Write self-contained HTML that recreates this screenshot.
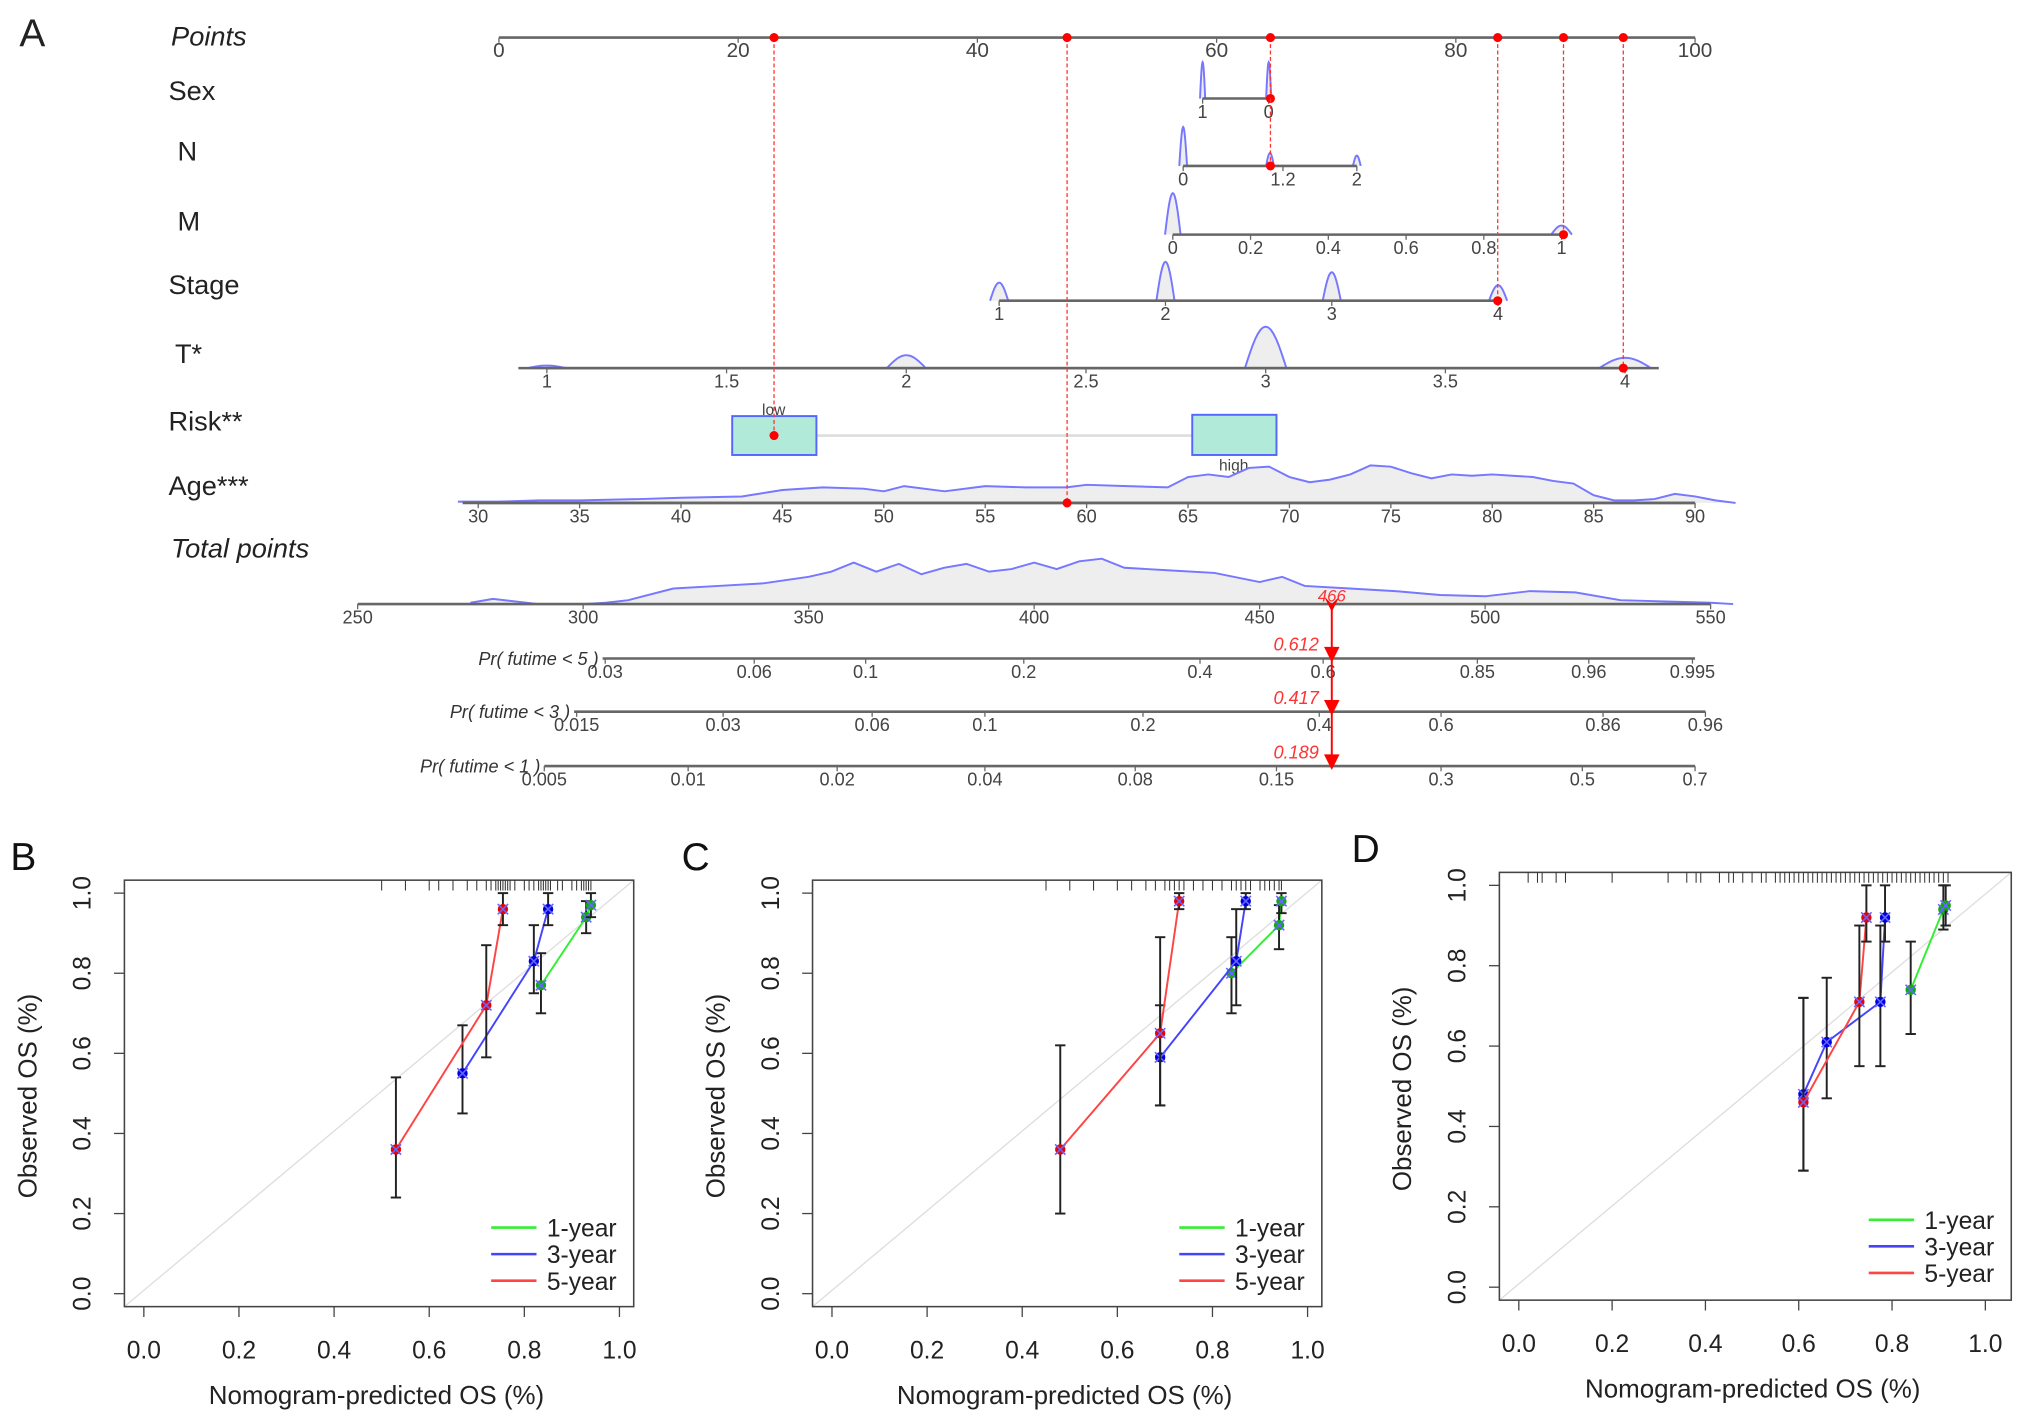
<!DOCTYPE html>
<html><head><meta charset="utf-8">
<style>
html,body{margin:0;padding:0;background:#fff;}
svg{display:block;}
text{font-family:"Liberation Sans",Arial,sans-serif;}
</style></head>
<body>
<svg id="fig" xmlns="http://www.w3.org/2000/svg" width="2032" height="1422" viewBox="0 0 1568 1097" preserveAspectRatio="none">
<rect x="0" y="0" width="1568" height="1097" fill="#fff"/>
<g id="nomo"></g>
<g id="cal"></g>
</svg>
<script>
// ---------- Nomogram data ----------
const rowLabels = ["Points","Sex","N","M","Stage","T*","Risk**","Age***","Total points"];
const pointsTicks = [0,20,40,60,80,100];
const sexTicks = ["1","0"];
const nTicks = ["0","1.2","2"];
const mTicks = [0,0.2,0.4,0.6,0.8,1];
const stageTicks = [1,2,3,4];
const tTicks = [1,1.5,2,2.5,3,3.5,4];
const ageTicks = [30,35,40,45,50,55,60,65,70,75,80,85,90];
const totalTicks = [250,300,350,400,450,500,550];
const pr5Ticks = ["0.03","0.06","0.1","0.2","0.4","0.6","0.85","0.96","0.995"];
const pr3Ticks = ["0.015","0.03","0.06","0.1","0.2","0.4","0.6","0.86","0.96"];
const pr1Ticks = ["0.005","0.01","0.02","0.04","0.08","0.15","0.3","0.5","0.7"];
const selectedPoints = [23, 47.5, 64.5, 83.5, 89, 94];
const selectedTotal = 466;
const prValues = ["0.612","0.417","0.189"];
// density heights
const ageDensX = [29,31,33,35,38,40,43,45,47,49,50,51,53,55,57,59,60,62,64,65,66,67,68,69,70,71,72,73,74,75,76,77,78,79,80,81,82,83,84,85,86,87,88,89,90,91,92];
const ageDensY = [1,1,2,2,3,4,5,10,12,11,9,13,9,13,12,12,14,13,12,20,22,20,27,28,20,16,18,22,29,28,23,19,22,21,22,21,20,17,15,6,2,2,3,7,5,2,0];
const totDensX = [275,280,285,290,300,305,310,320,330,340,350,355,360,365,370,375,380,385,390,395,400,405,410,415,420,425,430,440,450,455,460,470,480,490,500,510,520,530,540,550,555];
const totDensY = [1,4,2,0,0,1,3,12,14,16,21,25,32,25,31,23,28,31,25,27,32,27,33,35,28,27,26,24,17,21,14,12,10,7,6,10,9,3,2,1,0];

const NS="http://www.w3.org/2000/svg";
function el(parent,tag,attrs,name,inter){
  const e=document.createElementNS(NS,tag);
  for(const k in attrs)e.setAttribute(k,attrs[k]);
  
  
  parent.appendChild(e);return e;
}
function txt(parent,x,y,s,size,name,opt){
  opt=opt||{};
  const t=el(parent,'text',{x:x,y:y,'font-size':size,fill:opt.fill||'#222','text-anchor':opt.anchor||'start','font-style':opt.italic?'italic':'normal'},name,false);
  if(opt.transform)t.setAttribute('transform',opt.transform);
  t.textContent=s;return t;
}
const G=document.getElementById('nomo');
const px0=385, px1=1308;
function ptX(p){return px0+(px1-px0)*p/100;}
txt(G,15,36,"A",30,'panel-label-a');
const labelPos=[[132,35,true],[130,77,false],[137,124,false],[137,178,false],[130,227,false],[135,280,false],[130,332,false],[130,382,false],[132,430,true]];
rowLabels.forEach((l,i)=>{txt(G,labelPos[i][0],labelPos[i][1],l,21,'row-label',{italic:labelPos[i][2]});});

function axis(x0,x1,y,ticks,tx,name,fs){
  el(G,'line',{x1:x0,y1:y,x2:x1,y2:y,stroke:'#666','stroke-width':2},name+'-line',false);
  ticks.forEach((t,i)=>{
    const x=tx(t,i);
    el(G,'line',{x1:x,y1:y,x2:x,y2:y+4,stroke:'#666','stroke-width':1},name+'-tick',false);
    txt(G,x,y+15,String(t),fs||14,name+'-tick-label',{anchor:'middle',fill:'#444'});
  });
}
function bump(cx,y,w,h,name){
  if(h<=0)return;
  let d=`M${cx-w/2},${y}`;
  for(let i=0;i<=16;i++){const t=i/16;d+=` L${cx-w/2+w*t},${y-h*Math.sin(Math.PI*t)}`;}
  el(G,'path',{d:d,fill:'#eee',stroke:'#77f','stroke-width':1.5},name,false);
}
function dens(xs,ys,sx,y,name){
  let d=`M${sx(xs[0])},${y}`;
  xs.forEach((v,i)=>{d+=` L${sx(v)},${y-ys[i]}`;});
  d+=` L${sx(xs[xs.length-1])},${y} Z`;
  el(G,'path',{d:d,fill:'#eee',stroke:'none'},name+'-fill',false);
  let d2=`M${sx(xs[0])},${y-ys[0]}`;
  xs.forEach((v,i)=>{d2+=` L${sx(v)},${y-ys[i]}`;});
  el(G,'path',{d:d2,fill:'none',stroke:'#77f','stroke-width':1.5},name+'-line',false);
}
axis(px0,px1,29,pointsTicks,t=>ptX(t),'points-axis',16);
bump(928,76,4,28,'sex-density-1');bump(979,76,4,28,'sex-density-0');
axis(928,979,76,sexTicks,(t,i)=>[928,979][i],'sex-axis');
const nX=v=>913+(1047-913)*v/2;
bump(nX(0),128,6,30,'n-density-0');bump(nX(1),128,6,10,'n-density-1');bump(nX(2),128,6,8,'n-density-2');
axis(913,1047,128,nTicks,(t,i)=>[913,990,1047][i],'n-axis');
const mX=v=>905+300*v;
bump(mX(0),181,12,32,'m-density-0');bump(mX(1),181,16,7,'m-density-1');
axis(905,1205,181,mTicks,t=>mX(t),'m-axis');
const sX=v=>771+(1156-771)*(v-1)/3;
[14,30,22,12].forEach((h,i)=>bump(sX(i+1),232,14,h,'stage-density'));
axis(771,1156,232,stageTicks,t=>sX(t),'stage-axis');
const tX=v=>422+(1254-422)*(v-1)/3;
bump(tX(1),284,30,2,'t-density-1');bump(tX(2),284,30,10,'t-density-2');bump(tX(3),284,32,32,'t-density-3');bump(tX(4),284,40,8,'t-density-4');
el(G,'line',{x1:400,y1:284,x2:1280,y2:284,stroke:'#666','stroke-width':2},'t-axis-base',false);
axis(422,1254,284,tTicks,t=>tX(t),'t-axis');
el(G,'line',{x1:630,y1:336,x2:920,y2:336,stroke:'#ddd','stroke-width':2},'risk-connector',false);
el(G,'rect',{x:565,y:321,width:65,height:30,fill:'#b2ead9',stroke:'#56f','stroke-width':1.5},'risk-low-box',false);
el(G,'rect',{x:920,y:320,width:65,height:31,fill:'#b2ead9',stroke:'#56f','stroke-width':1.5},'risk-high-box',false);
txt(G,597,320,"low",12,'risk-low-label',{anchor:'middle',fill:'#444'});
txt(G,952,363,"high",12,'risk-high-label',{anchor:'middle',fill:'#444'});
const aX=v=>369+(1308-369)*(v-30)/60;
dens(ageDensX,ageDensY,aX,388,'age-density');
el(G,'line',{x1:357,y1:388,x2:1308,y2:388,stroke:'#666','stroke-width':2},'age-axis-base',false);
axis(369,1308,388,ageTicks,t=>aX(t),'age-axis');
const tpX=v=>276+(1320-276)*(v-250)/300;
dens(totDensX,totDensY,tpX,466,'total-density');
axis(276,1320,466,totalTicks,t=>tpX(t),'total-points-axis');
axis(465,1308,508,pr5Ticks,(t,i)=>[467,582,668,790,926,1021,1140,1226,1306][i],'pr5-axis');
axis(443,1316,549,pr3Ticks,(t,i)=>[445,558,673,760,882,1018,1112,1237,1316][i],'pr3-axis');
axis(420,1308,591,pr1Ticks,(t,i)=>[420,531,646,760,876,985,1112,1221,1308][i],'pr1-axis');
txt(G,462,513,"Pr( futime < 5 )",14,'pr5-label',{anchor:'end',italic:true,fill:'#333'});
txt(G,440,554,"Pr( futime < 3 )",14,'pr3-label',{anchor:'end',italic:true,fill:'#333'});
txt(G,417,596,"Pr( futime < 1 )",14,'pr1-label',{anchor:'end',italic:true,fill:'#333'});
const rowOrder=[ [23,336],[47.5,388],[64.5,76],[83.5,232],[89,181],[94,284] ];
selectedPoints.forEach((p,i)=>{
  const x=ptX(p);
  el(G,'line',{x1:x,y1:29,x2:x,y2:rowOrder[i][1],stroke:'#f33','stroke-width':1,'stroke-dasharray':'3,2'},'selection-dashed-line',false);
  el(G,'circle',{cx:x,cy:29,r:3.5,fill:'#f00'},'points-marker',false);
  el(G,'circle',{cx:x,cy:rowOrder[i][1],r:3.5,fill:'#f00'},'variable-marker',false);
});
el(G,'line',{x1:ptX(64.5),y1:76,x2:ptX(64.5),y2:128,stroke:'#f33','stroke-width':1,'stroke-dasharray':'3,2'},'n-dashed-line',false);
el(G,'circle',{cx:ptX(64.5),cy:128,r:3.5,fill:'#f00'},'n-marker',false);
const totX=tpX(selectedTotal);
el(G,'line',{x1:totX,y1:466,x2:totX,y2:591,stroke:'#f00','stroke-width':1.5},'total-arrow-line',false);
el(G,'path',{d:`M${totX-6},${460} L${totX},${466} L${totX+6},${460} L${totX},${472} Z`,fill:'#f00'},'total-marker',false);
txt(G,totX,464,String(selectedTotal),13,'total-value',{anchor:'middle',fill:'#f33',italic:true});
[508,549,591].forEach((y,i)=>{
  el(G,'path',{d:`M${totX-6},${y-9} L${totX+6},${y-9} L${totX},${y+3} Z`,fill:'#f00'},'prob-arrow',false);
  txt(G,totX-10,y-6,prValues[i],14,'prob-value',{anchor:'end',fill:'#f33',italic:true});
});

// ---------- Calibration data ----------
const axisTicks = [0,0.2,0.4,0.6,0.8,1.0];
const seriesNames = ["1-year","3-year","5-year"];
const seriesColors = ["#3e3","#44f","#f44"];
const bRedX=[0.53,0.72,0.755], bRedY=[0.36,0.72,0.96], bRedLo=[0.24,0.59,0.92], bRedHi=[0.54,0.87,1.0];
const bBlueX=[0.67,0.82,0.85], bBlueY=[0.55,0.83,0.96], bBlueLo=[0.45,0.75,0.92], bBlueHi=[0.67,0.92,1.0];
const bGreenX=[0.835,0.93,0.94], bGreenY=[0.77,0.94,0.97], bGreenLo=[0.70,0.90,0.94], bGreenHi=[0.85,0.98,1.0];
const bRug=[0.5,0.55,0.6,0.62,0.65,0.68,0.7,0.72,0.73,0.74,0.745,0.75,0.755,0.76,0.765,0.77,0.78,0.8,0.81,0.82,0.83,0.835,0.84,0.845,0.85,0.855,0.87,0.88,0.9,0.91,0.92,0.925,0.93,0.935,0.94];
const cRedX=[0.48,0.69,0.73], cRedY=[0.36,0.65,0.98], cRedLo=[0.20,0.47,0.96], cRedHi=[0.62,0.89,1.0];
const cBlueX=[0.69,0.85,0.87], cBlueY=[0.59,0.83,0.98], cBlueLo=[0.47,0.72,0.96], cBlueHi=[0.72,0.96,1.0];
const cGreenX=[0.84,0.94,0.945], cGreenY=[0.80,0.92,0.98], cGreenLo=[0.70,0.86,0.95], cGreenHi=[0.89,0.97,1.0];
const cRug=[0.45,0.5,0.55,0.6,0.63,0.66,0.68,0.7,0.71,0.72,0.73,0.74,0.76,0.78,0.8,0.82,0.84,0.85,0.86,0.87,0.88,0.9,0.91,0.92,0.93,0.94,0.945];
const dRedX=[0.61,0.73,0.745], dRedY=[0.46,0.71,0.92], dRedLo=[0.29,0.55,0.86], dRedHi=[0.72,0.90,1.0];
const dBlueX=[0.61,0.66,0.775,0.785], dBlueY=[0.48,0.61,0.71,0.92], dBlueLo=[0.29,0.47,0.55,0.86], dBlueHi=[0.72,0.77,0.90,1.0];
const dGreenX=[0.84,0.91,0.915], dGreenY=[0.74,0.94,0.95], dGreenLo=[0.63,0.89,0.90], dGreenHi=[0.86,1.0,1.0];
const dRug=[0.02,0.04,0.05,0.08,0.1,0.2,0.32,0.36,0.38,0.39,0.43,0.45,0.46,0.48,0.5,0.52,0.53,0.55,0.56,0.57,0.58,0.59,0.6,0.61,0.62,0.63,0.64,0.65,0.66,0.67,0.68,0.69,0.7,0.71,0.72,0.73,0.74,0.75,0.76,0.77,0.78,0.79,0.8,0.81,0.82,0.83,0.84,0.85,0.86,0.87,0.88,0.89,0.9,0.91,0.92];

const C=document.getElementById('cal');
function calPanel(letter,lx,fr,ax,series,rug,legY){
  const g=el(C,'g',{},'calibration-panel-'+letter.toLowerCase(),false);
  const sx=v=>ax.x0+(ax.x1-ax.x0)*v;
  const sy=v=>ax.y0-(ax.y0-ax.y1)*v;
  txt(g,lx,fr.t-8,letter,30,'panel-label-'+letter.toLowerCase(),{fill:'#111'});
  el(g,'line',{x1:fr.l,y1:fr.b,x2:fr.r,y2:fr.t,stroke:'#ddd','stroke-width':1},'ideal-diagonal',false);
  el(g,'rect',{x:fr.l,y:fr.t,width:fr.r-fr.l,height:fr.b-fr.t,fill:'none',stroke:'#444','stroke-width':1.2},'plot-frame',false);
  rug.forEach(v=>{el(g,'line',{x1:sx(v),y1:fr.t,x2:sx(v),y2:fr.t+8,stroke:'#333','stroke-width':0.8},'rug-tick',false);});
  axisTicks.forEach(t=>{
    el(g,'line',{x1:sx(t),y1:fr.b,x2:sx(t),y2:fr.b+8,stroke:'#444','stroke-width':1},'x-tick',false);
    txt(g,sx(t),fr.b+40,t.toFixed(1),19,'x-tick-label',{anchor:'middle',fill:'#222'});
    el(g,'line',{x1:fr.l,y1:sy(t),x2:fr.l-8,y2:sy(t),stroke:'#444','stroke-width':1},'y-tick',false);
    txt(g,fr.l-26,sy(t),t.toFixed(1),19,'y-tick-label',{anchor:'middle',fill:'#222',transform:`rotate(-90 ${fr.l-26} ${sy(t)})`});
  });
  txt(g,(fr.l+fr.r)/2-2,fr.b+75,"Nomogram-predicted OS (%)",20,'x-axis-title',{anchor:'middle',fill:'#222'});
  const yc=(fr.t+fr.b)/2+2;
  const ytx=fr.l-68;
  txt(g,ytx,yc,"Observed OS (%)",20,'y-axis-title',{anchor:'middle',fill:'#222',transform:`rotate(-90 ${ytx} ${yc})`});
  series.forEach((s,k)=>{
    const col=seriesColors[k];
    let d='';
    s.x.forEach((v,i)=>{d+=(i?' L':'M')+sx(v)+','+sy(s.y[i]);});
    el(g,'path',{d:d,fill:'none',stroke:col,'stroke-width':1.5},'series-line-'+seriesNames[k],false);
    s.x.forEach((v,i)=>{
      const x=sx(v);
      el(g,'line',{x1:x,y1:sy(s.lo[i]),x2:x,y2:sy(s.hi[i]),stroke:'#222','stroke-width':1.5},'error-bar',false);
      el(g,'line',{x1:x-4,y1:sy(s.lo[i]),x2:x+4,y2:sy(s.lo[i]),stroke:'#222','stroke-width':1.5},'error-cap',false);
      el(g,'line',{x1:x-4,y1:sy(s.hi[i]),x2:x+4,y2:sy(s.hi[i]),stroke:'#222','stroke-width':1.5},'error-cap',false);
      const y=sy(s.y[i]);
      el(g,'circle',{cx:x,cy:y,r:4,fill:k==0?'#1a1':(k==1?'#00d':'#e00')},'point-'+seriesNames[k],false);
      el(g,'path',{d:`M${x-4},${y-4} L${x+4},${y+4} M${x-4},${y+4} L${x+4},${y-4}`,stroke:'#66f','stroke-width':1.2},'x-marker',false);
    });
  });
  seriesNames.forEach((n,k)=>{
    const y=legY+k*20.5;
    el(g,'line',{x1:fr.r-110,y1:y,x2:fr.r-75,y2:y,stroke:seriesColors[k],'stroke-width':2},'legend-line',false);
    txt(g,fr.r-67,y+7,n,19,'legend-entry',{fill:'#222'});
  });
}
calPanel("B",8,{l:96,r:489,t:679,b:1008},{x0:111,x1:478,y0:998,y1:689},
  [{x:bGreenX,y:bGreenY,lo:bGreenLo,hi:bGreenHi},{x:bBlueX,y:bBlueY,lo:bBlueLo,hi:bBlueHi},{x:bRedX,y:bRedY,lo:bRedLo,hi:bRedHi}],bRug,947);
calPanel("C",526,{l:627,r:1020,t:679,b:1008},{x0:642,x1:1009,y0:998,y1:689},
  [{x:cGreenX,y:cGreenY,lo:cGreenLo,hi:cGreenHi},{x:cBlueX,y:cBlueY,lo:cBlueLo,hi:cBlueHi},{x:cRedX,y:cRedY,lo:cRedLo,hi:cRedHi}],cRug,947);
calPanel("D",1043,{l:1157,r:1552,t:673,b:1003},{x0:1172,x1:1532,y0:993,y1:683},
  [{x:dGreenX,y:dGreenY,lo:dGreenLo,hi:dGreenHi},{x:dBlueX,y:dBlueY,lo:dBlueLo,hi:dBlueHi},{x:dRedX,y:dRedY,lo:dRedLo,hi:dRedHi}],dRug,941);
</script>
</body></html>
